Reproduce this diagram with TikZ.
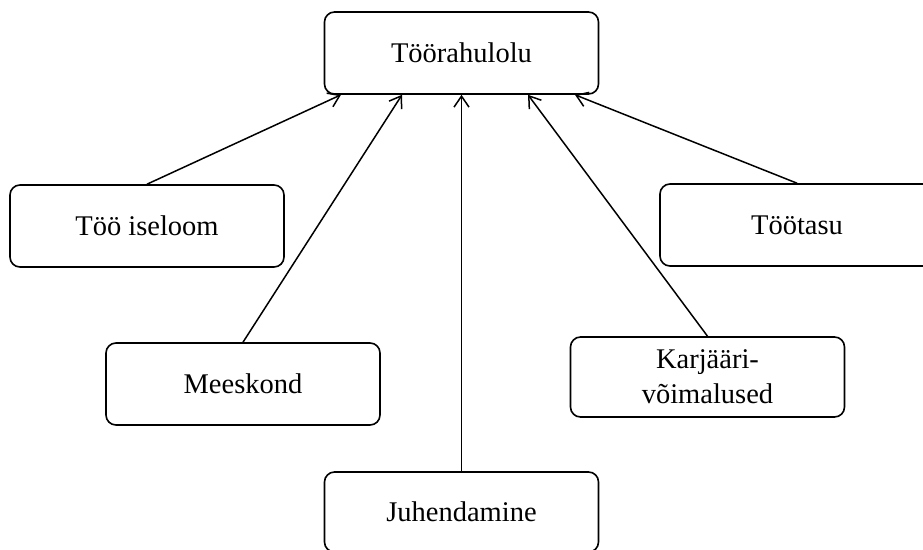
\documentclass[tikz,border=0pt]{standalone}
\usepackage{fontspec}
\setmainfont{Liberation Serif}
\usetikzlibrary{arrows.meta}
\begin{document}
\begin{tikzpicture}[x=1pt,y=-1pt,
  box/.style={draw, line width=1.6pt, rounded corners=10pt, minimum width=274pt, minimum height=82pt, align=center, inner sep=0pt, font=\fontsize{28.5}{35}\selectfont},
  conn/.style={line width=1.5pt, -{Straight Barb[length=11pt,width=15pt,line width=1.5pt]}}]
\useasboundingbox (0,0) rectangle (923,549);
\node[box] (top) at (461.5,53) {Töörahulolu};
\node[box] (iseloom) at (147,226) {Töö iseloom};
\node[box] (tasu) at (797,225) {Töötasu};
\node[box] (mees) at (243,384) {Meeskond};
\node[box, minimum height=80pt] (karj) at (707.5,377) {Karjääri-\\võimalused};
\node[box, minimum height=80pt] (juh) at (461.5,512) {Juhendamine};
\draw[conn] (iseloom.north) -- ([xshift=-120.5pt]top.south);
\draw[conn] (mees.north) -- ([xshift=-59.5pt]top.south);
\draw[conn] (juh.north) -- (top.south);
\draw[conn] (karj.north) -- ([xshift=66.5pt]top.south);
\draw[conn] (tasu.north) -- ([xshift=113.5pt]top.south);
\end{tikzpicture}
\end{document}
